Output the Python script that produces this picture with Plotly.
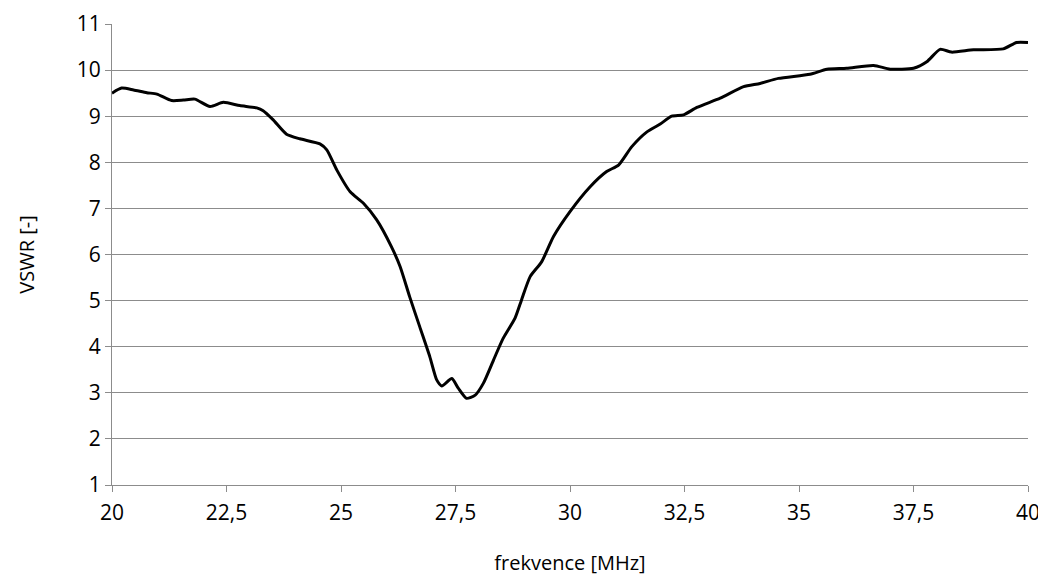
import plotly.graph_objects as go

freq = [20.0, 20.21, 20.47, 20.76, 20.98, 21.30, 21.56, 21.81, 22.14, 22.43, 22.79, 23.16, 23.30,
        23.52, 23.81, 24.10, 24.54, 24.69, 24.91, 25.20, 25.49, 25.78, 26.10, 26.29, 26.50, 26.72,
        26.94, 27.09, 27.20, 27.42, 27.56, 27.74, 27.93, 28.11, 28.33, 28.54, 28.80, 28.94, 29.13,
        29.38, 29.64, 30.00, 30.44, 30.80, 31.06, 31.35, 31.68, 31.97, 32.22, 32.48, 32.77, 33.28,
        33.79, 34.15, 34.55, 35.24, 35.61, 36.04, 36.63, 36.99, 37.50, 37.79, 38.08, 38.33, 38.81,
        39.46, 39.75, 40.0]
vswr = [9.50, 9.61, 9.57, 9.51, 9.48, 9.34, 9.35, 9.37, 9.21, 9.30, 9.23, 9.18, 9.12,
        8.92, 8.61, 8.51, 8.40, 8.27, 7.83, 7.36, 7.11, 6.75, 6.17, 5.74, 5.08, 4.43,
        3.78, 3.28, 3.15, 3.31, 3.10, 2.88, 2.95, 3.21, 3.71, 4.18, 4.62, 5.01, 5.52,
        5.84, 6.39, 6.93, 7.47, 7.80, 7.94, 8.34, 8.66, 8.83, 9.00, 9.03, 9.19, 9.39,
        9.64, 9.71, 9.82, 9.91, 10.02, 10.04, 10.10, 10.02, 10.04, 10.18, 10.45, 10.39, 10.44,
        10.46, 10.60, 10.60]

x_ticks = [20, 22.5, 25, 27.5, 30, 32.5, 35, 37.5, 40]
x_tick_labels = ["20", "22,5", "25", "27,5", "30", "32,5", "35", "37,5", "40"]
y_ticks = list(range(1, 12))

fig = go.Figure()
fig.add_trace(go.Scatter(x=freq, y=vswr, mode="lines",
                         line=dict(color="black", width=3, shape="spline", smoothing=0.6),
                         showlegend=False, hoverinfo="x+y"))

font = "Open Sans"
tfs = 21
afs = 20
fig.update_layout(
    width=1038, height=569,
    margin=dict(l=104, r=18, t=16, b=92),
    paper_bgcolor="white", plot_bgcolor="white",
    font=dict(family=font, size=tfs, color="black"),
    xaxis=dict(range=[20, 40], tickmode="array", tickvals=x_ticks, ticktext=x_tick_labels,
               showgrid=False, showline=True, linecolor="#8c8c8c", linewidth=1,
               ticks="outside", ticklen=6, tickcolor="#8c8c8c", zeroline=False,
               ticklabelstandoff=3,
               title=dict(text="frekvence [MHz]", font=dict(size=afs), standoff=30),
               tickfont=dict(size=tfs), automargin=False),
    yaxis=dict(range=[1, 11], tickmode="array", tickvals=y_ticks,
               showgrid=True, gridcolor="#8c8c8c", gridwidth=1,
               showline=True, linecolor="#8c8c8c", linewidth=1,
               ticks="outside", ticklen=6, tickcolor="#8c8c8c", zeroline=False,
               title=dict(text="VSWR [-]", font=dict(size=afs), standoff=36),
               tickfont=dict(size=tfs), automargin=False),
)

fig.write_html("out.html")
